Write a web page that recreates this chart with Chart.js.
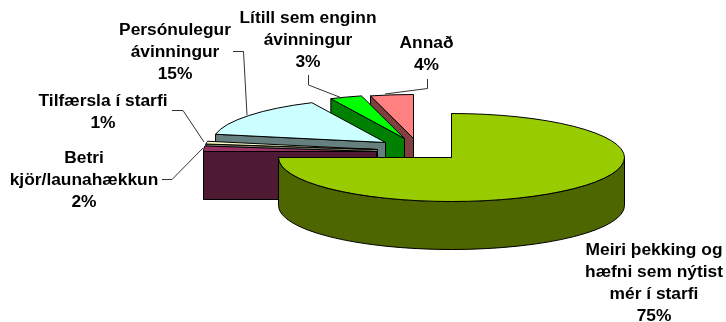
<!DOCTYPE html>
<html>
<head>
<meta charset="utf-8">
<style>
  html, body { margin: 0; padding: 0; background: #fff; }
  canvas { display: block; }
</style>
<script src="https://cdn.jsdelivr.net/npm/chart.js@4/dist/chart.umd.min.js"></script>
</head>
<body>
<canvas id="chart" width="726" height="322"></canvas>
<script>
const categories = [
  ['Meiri þekking og', 'hæfni sem nýtist', 'mér í starfi'],
  ['Betri', 'kjör/launahækkun'],
  ['Tilfærsla í starfi'],
  ['Persónulegur', 'ávinningur'],
  ['Lítill sem enginn', 'ávinningur'],
  ['Annað']
];
const values = [75, 2, 1, 15, 3, 4];

const topColors = ['#99cc00', '#993366', '#ffffcc', '#ccffff', '#00ff00', '#ff8080'];
const wallColors = ['#4d6600', '#4d1933', '#808066', '#668080', '#008000', '#804040'];

// how far each slice is pulled out of the pie, in px
const explode = [[0, 0], [-75, -6], [-74, -8], [-66, -15], [-47, -19], [-38, -19]];
const tilt = 44 / 173;
const depth = 48;

// first line centre of each label
const labelAnchors = [[654, 250.5], [84, 158.5], [103, 101.5], [175, 31], [308, 18.5], [426.5, 44]];
const lineHeight = 22;
const textStretch = 1.085;
const leaders = [
  null,
  [[162, 179.5], [172, 179.5], [203, 148]],
  [[172, 110.5], [183, 110.5], [204, 142]],
  [[233, 51.5], [243.5, 51.5], [247, 115]],
  [[308.5, 75], [308.5, 85], [342, 98]],
  [[427.5, 79], [427.5, 88.5], [385, 94]]
];

const pie3d = {
  id: 'pie3d',
  beforeDatasetDraw(chart, args) {
    const ctx = chart.ctx;
    const arcs = args.meta.data;
    ctx.save();
    ctx.lineWidth = 1;
    ctx.strokeStyle = '#000';
    ctx.lineJoin = 'round';

    // back slices first, the big one goes last so it sits in front
    for (let i = arcs.length - 1; i >= 0; i--) {
      const arc = arcs[i];
      const cx = arc.x + explode[i][0];
      const cy = arc.y + explode[i][1];
      const rx = arc.outerRadius;
      const ry = rx * tilt;
      const a0 = arc.startAngle;
      const a1 = arc.endAngle;
      const px = cx + Math.cos(a0) * rx;
      const py = cy + Math.sin(a0) * ry;

      // cut face
      ctx.fillStyle = wallColors[i];
      ctx.beginPath();
      ctx.moveTo(cx, cy);
      ctx.lineTo(px, py);
      ctx.lineTo(px, py + depth);
      ctx.lineTo(cx, cy + depth);
      ctx.closePath();
      ctx.fill();
      ctx.stroke();

      // outer wall, only the part facing us
      const w0 = Math.max(a0, 0);
      const w1 = Math.min(a1, Math.PI);
      if (w1 > w0) {
        ctx.beginPath();
        ctx.ellipse(cx, cy, rx, ry, 0, w0, w1);
        ctx.ellipse(cx, cy + depth, rx, ry, 0, w1, w0, true);
        ctx.closePath();
        ctx.fill();
        ctx.stroke();
      }

      // top surface
      ctx.fillStyle = topColors[i];
      ctx.beginPath();
      ctx.moveTo(cx, cy);
      ctx.ellipse(cx, cy, rx, ry, 0, a0, a1);
      ctx.closePath();
      ctx.fill();
      ctx.stroke();
    }
    ctx.restore();
    return false;
  },
  afterDatasetsDraw(chart) {
    const ctx = chart.ctx;
    const total = values.reduce((a, b) => a + b, 0);
    ctx.save();

    ctx.strokeStyle = '#333';
    ctx.lineWidth = 1;
    leaders.forEach(pts => {
      if (!pts) return;
      ctx.beginPath();
      pts.forEach((p, k) => k ? ctx.lineTo(p[0], p[1]) : ctx.moveTo(p[0], p[1]));
      ctx.stroke();
    });

    ctx.fillStyle = '#000';
    ctx.font = 'bold 16px "Liberation Sans", Arial, sans-serif';
    ctx.textAlign = 'center';
    ctx.textBaseline = 'middle';
    categories.forEach((lines, i) => {
      const pct = Math.round(values[i] / total * 100) + '%';
      [...lines, pct].forEach((line, k) => {
        ctx.save();
        ctx.translate(labelAnchors[i][0], labelAnchors[i][1] + k * lineHeight);
        ctx.scale(textStretch, 1);
        ctx.fillText(line, 0, 0);
        ctx.restore();
      });
    });
    ctx.restore();
  }
};

new Chart(document.getElementById('chart'), {
  type: 'pie',
  data: {
    labels: categories.map(c => c.join(' ')),
    datasets: [{
      data: values,
      backgroundColor: topColors,
      radius: 173
    }]
  },
  options: {
    responsive: false,
    animation: false,
    layout: { padding: { left: 177, right: 0, top: 1, bottom: 8 } },
    plugins: {
      legend: { display: false },
      tooltip: { enabled: false }
    }
  },
  plugins: [pie3d]
});
</script>
</body>
</html>
